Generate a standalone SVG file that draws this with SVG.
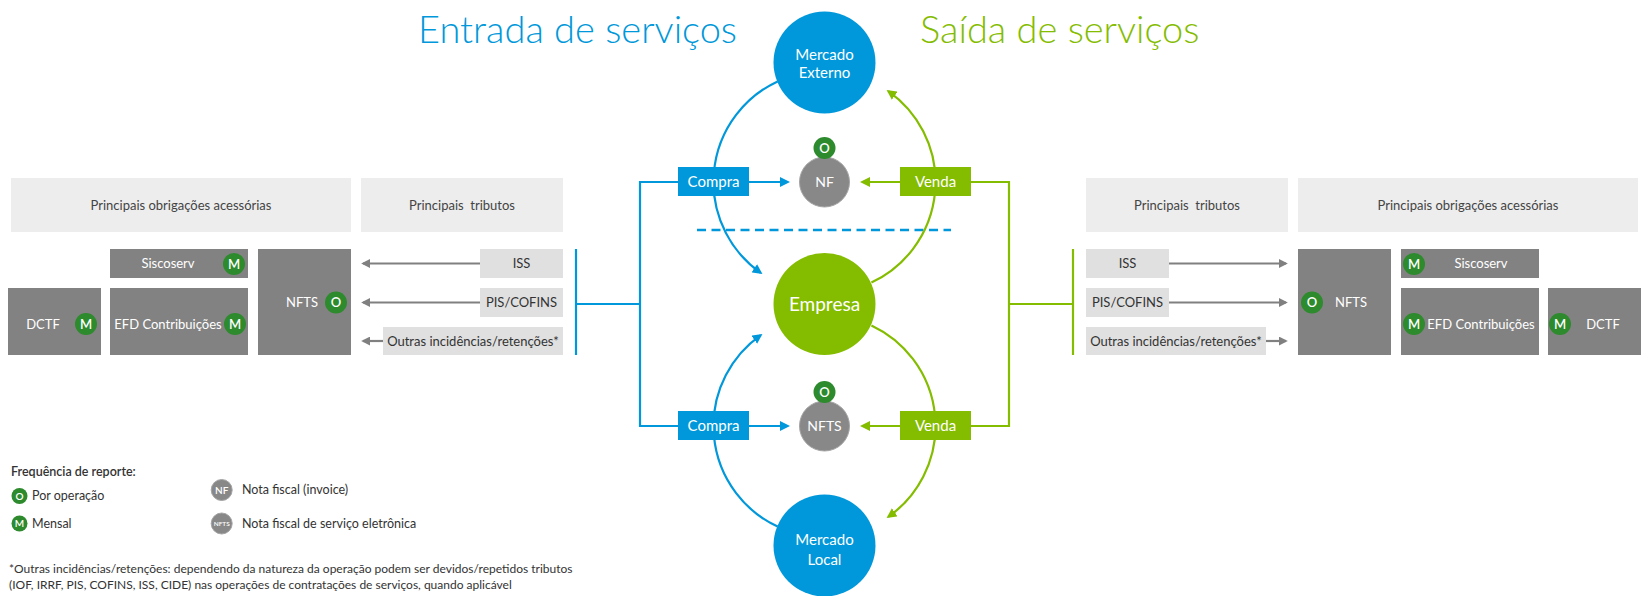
<svg xmlns="http://www.w3.org/2000/svg" width="1649" height="596" viewBox="0 0 1649 596">
<defs>
<style>
text{font-family:Lato,"Open Sans","Liberation Sans",sans-serif}
.hdr{fill:#EDEDED}
.tax{fill:#E0E0E0}
.dark{fill:#828282}
.ht{font-size:13px;fill:#444;text-anchor:middle}
.tt{font-size:13px;fill:#333;text-anchor:middle}
.wt{font-size:13px;fill:#fff;text-anchor:middle}
.bd{fill:#2D8A2D}
.bt{font-size:13px;fill:#fff;text-anchor:middle;font-weight:600}
.blue{stroke:#0098DA;stroke-width:2.2;fill:none}
.green{stroke:#84BC00;stroke-width:2.2;fill:none}
.gray{stroke:#808080;stroke-width:2.2;fill:none}
.cb{fill:#0098DA}
.cg{fill:#84BC00}
.cn{fill:#888888;stroke:#A5A5A5;stroke-width:1}
.lbl{font-size:15px;fill:#fff;text-anchor:middle}
.lg{font-size:12.5px;fill:#333}
.fn{font-size:12px;fill:#333}
</style>
<marker id="ab" viewBox="0 0 10 10" refX="8" refY="5" markerWidth="10" markerHeight="10" markerUnits="userSpaceOnUse" orient="auto"><path d="M0,0 L10,5 L0,10 z" fill="#0098DA"/></marker>
<marker id="ag" viewBox="0 0 10 10" refX="8" refY="5" markerWidth="10" markerHeight="10" markerUnits="userSpaceOnUse" orient="auto"><path d="M0,0 L10,5 L0,10 z" fill="#84BC00"/></marker>
<marker id="ay" viewBox="0 0 10 10" refX="8" refY="5" markerWidth="9" markerHeight="9" markerUnits="userSpaceOnUse" orient="auto"><path d="M0,0 L10,5 L0,10 z" fill="#808080"/></marker>
</defs>
<rect width="1649" height="596" fill="#fff"/>

<!-- titles -->
<text x="418" y="43" font-size="38" font-weight="300" fill="#0098DA">Entrada de serviços</text>
<text x="920" y="43" font-size="38" font-weight="300" fill="#84BC00">Saída de serviços</text>

<!-- connectors -->
<g id="connectors">
<path class="blue" d="M576,249 V355 M576,304 H640 M678,182 H640 V426 H678"/>
<path class="blue" d="M749,182 H788" marker-end="url(#ab)"/>
<path class="blue" d="M749,426 H788" marker-end="url(#ab)"/>
<path class="green" d="M1073,249 V355 M1073,304 H1009 M971,182 H1009 V426 H971"/>
<path class="green" d="M900,182 H862" marker-end="url(#ag)"/>
<path class="green" d="M900,426 H862" marker-end="url(#ag)"/>
<path d="M697,230 H951" stroke="#0098DA" stroke-width="2.5" stroke-dasharray="9 5.5" fill="none"/>
<path class="blue" d="M777.6,81.4 A111,111 0 0 0 760.8,272.9" marker-end="url(#ab)"/>
<path class="blue" d="M777.6,526.6 A111,111 0 0 1 760.8,335.1" marker-end="url(#ab)"/>
<path class="green" d="M871.4,282.6 A111,111 0 0 0 888.2,91.1" marker-end="url(#ag)"/>
<path class="green" d="M871.4,325.4 A111,111 0 0 1 888.2,516.9" marker-end="url(#ag)"/>
<path class="gray" d="M480,263.5 H363" marker-end="url(#ay)"/>
<path class="gray" d="M480,302.5 H363" marker-end="url(#ay)"/>
<path class="gray" d="M383,341 H363" marker-end="url(#ay)"/>
<path class="gray" d="M1169,263.5 H1286" marker-end="url(#ay)"/>
<path class="gray" d="M1169,302.5 H1286" marker-end="url(#ay)"/>
<path class="gray" d="M1266,341 H1286" marker-end="url(#ay)"/>
</g>

<!-- center nodes -->
<g id="mercado-externo"><circle class="cb" cx="824.5" cy="62.5" r="51"/><text class="lbl" x="824.5" y="59.5">Mercado</text><text class="lbl" x="824.5" y="78">Externo</text></g>
<g id="empresa"><circle class="cg" cx="824.5" cy="304" r="51"/><text class="lbl" x="824.5" y="310.5" style="font-size:19px">Empresa</text></g>
<g id="mercado-local"><circle class="cb" cx="824.5" cy="545.5" r="51"/><text class="lbl" x="824.5" y="544.5">Mercado</text><text class="lbl" x="824.5" y="564.5">Local</text></g>
<g id="nf"><circle class="cn" cx="824.5" cy="182" r="25"/><text class="lbl" x="824.5" y="187" style="font-size:14px">NF</text><circle class="bd" cx="824.5" cy="148" r="11"/><text class="bt" x="824.5" y="152.5">O</text></g>
<g id="nfts-c"><circle class="cn" cx="824.5" cy="426" r="25"/><text class="lbl" x="824.5" y="431" style="font-size:14px">NFTS</text><circle class="bd" cx="824.5" cy="392" r="11"/><text class="bt" x="824.5" y="396.5">O</text></g>
<g id="compra1"><rect class="cb" x="678" y="167" width="71" height="29"/><text class="lbl" x="713.5" y="187">Compra</text></g>
<g id="compra2"><rect class="cb" x="678" y="411" width="71" height="29"/><text class="lbl" x="713.5" y="431">Compra</text></g>
<g id="venda1"><rect class="cg" x="900" y="167" width="71" height="29"/><text class="lbl" x="935.5" y="187">Venda</text></g>
<g id="venda2"><rect class="cg" x="900" y="411" width="71" height="29"/><text class="lbl" x="935.5" y="431">Venda</text></g>

<!-- left side -->
<g id="l-hdr-obr"><rect class="hdr" x="11" y="178" width="340" height="54"/><text class="ht" x="181" y="209.5">Principais obrigações acessórias</text></g>
<g id="l-hdr-trib"><rect class="hdr" x="361" y="178" width="202" height="54"/><text class="ht" x="462" y="209.5" xml:space="preserve">Principais  tributos</text></g>
<g id="l-siscoserv"><rect class="dark" x="110" y="249" width="138" height="29"/><text class="wt" x="168" y="268">Siscoserv</text><circle class="bd" cx="234" cy="264" r="11"/><text class="bt" x="234" y="268.5">M</text></g>
<g id="l-dctf"><rect class="dark" x="8" y="288" width="93" height="67"/><text class="wt" x="43" y="328.5">DCTF</text><circle class="bd" cx="86" cy="324" r="11"/><text class="bt" x="86" y="328.5">M</text></g>
<g id="l-efd"><rect class="dark" x="110" y="288" width="138" height="67"/><text class="wt" x="168" y="328.5">EFD Contribuições</text><circle class="bd" cx="235" cy="324" r="11"/><text class="bt" x="235" y="328.5">M</text></g>
<g id="l-nfts"><rect class="dark" x="258" y="249" width="93" height="106"/><text class="wt" x="302" y="307">NFTS</text><circle class="bd" cx="336" cy="302.5" r="11"/><text class="bt" x="336" y="307">O</text></g>
<g id="l-iss"><rect class="tax" x="480" y="249" width="83" height="29"/><text class="tt" x="521.5" y="268">ISS</text></g>
<g id="l-pis"><rect class="tax" x="480" y="288" width="83" height="29"/><text class="tt" x="521.5" y="307">PIS/COFINS</text></g>
<g id="l-outras"><rect class="tax" x="383" y="327" width="180" height="28"/><text class="tt" x="473" y="345.5">Outras incidências/retenções*</text></g>

<!-- right side -->
<g id="r-hdr-trib"><rect class="hdr" x="1086" y="178" width="202" height="54"/><text class="ht" x="1187" y="209.5" xml:space="preserve">Principais  tributos</text></g>
<g id="r-hdr-obr"><rect class="hdr" x="1298" y="178" width="340" height="54"/><text class="ht" x="1468" y="209.5">Principais obrigações acessórias</text></g>
<g id="r-iss"><rect class="tax" x="1086" y="249" width="83" height="29"/><text class="tt" x="1127.5" y="268">ISS</text></g>
<g id="r-pis"><rect class="tax" x="1086" y="288" width="83" height="29"/><text class="tt" x="1127.5" y="307">PIS/COFINS</text></g>
<g id="r-outras"><rect class="tax" x="1086" y="327" width="180" height="28"/><text class="tt" x="1176" y="345.5">Outras incidências/retenções*</text></g>
<g id="r-nfts"><rect class="dark" x="1298" y="249" width="93" height="106"/><text class="wt" x="1351" y="307">NFTS</text><circle class="bd" cx="1312" cy="302.5" r="11"/><text class="bt" x="1312" y="307">O</text></g>
<g id="r-siscoserv"><rect class="dark" x="1401" y="249" width="138" height="29"/><text class="wt" x="1481" y="268">Siscoserv</text><circle class="bd" cx="1414" cy="264" r="11"/><text class="bt" x="1414" y="268.5">M</text></g>
<g id="r-efd"><rect class="dark" x="1401" y="288" width="138" height="67"/><text class="wt" x="1481" y="328.5">EFD Contribuições</text><circle class="bd" cx="1414" cy="324" r="11"/><text class="bt" x="1414" y="328.5">M</text></g>
<g id="r-dctf"><rect class="dark" x="1548" y="288" width="93" height="67"/><text class="wt" x="1603" y="328.5">DCTF</text><circle class="bd" cx="1560" cy="324" r="11"/><text class="bt" x="1560" y="328.5">M</text></g>

<!-- legend -->
<g id="legend">
<text class="lg" x="11" y="476" style="font-weight:600">Frequência de reporte:</text>
<circle class="bd" cx="19.5" cy="496" r="8"/><text class="bt" x="19.5" y="499.5" style="font-size:10px">O</text>
<text class="lg" x="32" y="500">Por operação</text>
<circle class="bd" cx="19.5" cy="523.5" r="8"/><text class="bt" x="19.5" y="527" style="font-size:10px">M</text>
<text class="lg" x="32" y="527.5">Mensal</text>
<circle class="cn" cx="221.7" cy="490" r="10.5"/><text class="bt" x="221.7" y="493.5" style="font-size:10px">NF</text>
<text class="lg" x="242" y="494">Nota fiscal (invoice)</text>
<circle class="cn" cx="221.7" cy="523.5" r="10.5"/><text class="bt" x="221.7" y="526" style="font-size:6.5px">NFTS</text>
<text class="lg" x="242" y="527.5">Nota fiscal de serviço eletrônica</text>
<text class="fn" x="9" y="573">*Outras incidências/retenções: dependendo da natureza da operação podem ser devidos/repetidos tributos</text>
<text class="fn" x="9" y="589">(IOF, IRRF, PIS, COFINS, ISS, CIDE) nas operações de contratações de serviços, quando aplicável</text>
</g>
</svg>
